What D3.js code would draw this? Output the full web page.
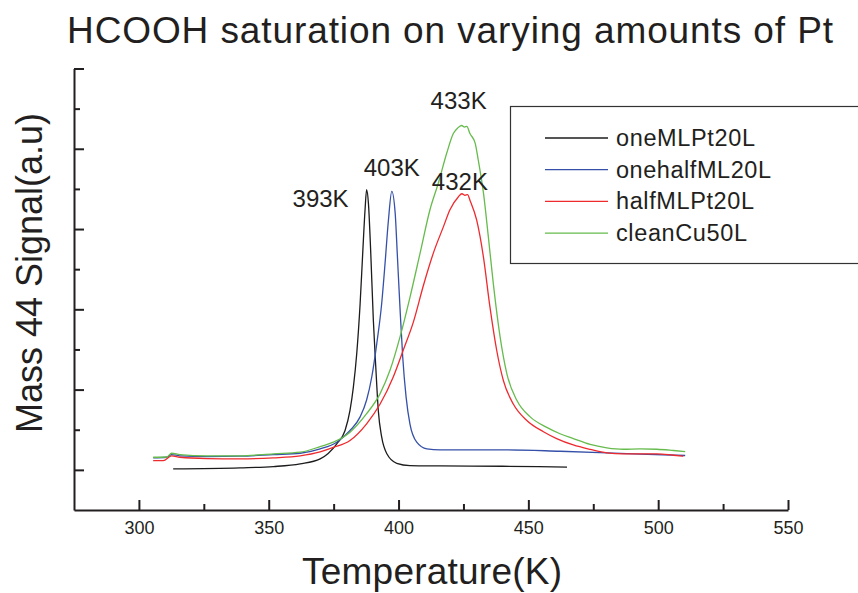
<!DOCTYPE html>
<html>
<head>
<meta charset="utf-8">
<script src="https://cdn.jsdelivr.net/npm/d3@7/dist/d3.min.js"></script>
<style>
  html, body { margin: 0; padding: 0; background: #fff; }
  svg { display: block; font-family: "Liberation Sans", Arial, Helvetica, sans-serif; }
</style>
</head>
<body>
<svg id="chart" width="858" height="593"></svg>
<script>
// Mass 44 TPD traces after HCOOH saturation (temperature in K, signal in a.u.)
const oneMLPt20L_T = [313.2, 338.9, 351.8, 362.1, 369.8, 376.2, 379.4, 381.3, 382.6, 383.9, 385.2, 386.2, 387.1, 387.7, 388.4, 389.3, 390.3, 391.3, 392.2, 393.5, 395.5, 399.3, 404.4, 416, 440, 464.9];
const oneMLPt20L_S = [0.012, 0.025, 0.041, 0.075, 0.137, 0.325, 0.49, 0.74, 1.03, 1.45, 2.07, 2.70, 3.24, 3.49, 3.32, 2.70, 1.86, 1.24, 0.74, 0.41, 0.20, 0.082, 0.054, 0.05, 0.045, 0.035];

const onehalfML20L_T = [305.5, 310.7, 312.6, 315.8, 326.1, 338.9, 351.8, 362.1, 369.8, 376.2, 381.3, 385.2, 387.7, 389.7, 391.6, 393.5, 394.8, 396.1, 397.4, 398.7, 399.5, 400.6, 401.6, 402.9, 404.4, 407, 410.9, 416, 439.1, 462.2, 477.6, 493, 510.4];
const onehalfML20L_S = [0.15, 0.157, 0.19, 0.175, 0.166, 0.17, 0.19, 0.207, 0.262, 0.345, 0.49, 0.66, 0.87, 1.16, 1.57, 2.07, 2.57, 3.11, 3.47, 3.20, 2.70, 1.99, 1.41, 0.91, 0.57, 0.345, 0.262, 0.25, 0.25, 0.232, 0.216, 0.197, 0.179];

const halfMLPt20L_T = [305.5, 309.4, 312.6, 315.8, 326.1, 338.9, 351.8, 362.1, 369.8, 374.9, 381.3, 387.7, 392.9, 398, 401.8, 405.7, 409.6, 413.4, 417.3, 419.8, 423, 424.4, 425.6, 426.6, 427.5, 430.1, 432.7, 435.2, 437.8, 440.4, 444.2, 449.4, 455.8, 460.9, 467.3, 473.8, 480.2, 486.6, 493, 499.5, 505.9, 509.7];
const halfMLPt20L_S = [0.116, 0.116, 0.175, 0.157, 0.141, 0.137, 0.15, 0.175, 0.225, 0.28, 0.366, 0.574, 0.82, 1.16, 1.49, 1.84, 2.30, 2.70, 3.03, 3.24, 3.40, 3.44, 3.42, 3.43, 3.36, 3.11, 2.65, 2.03, 1.49, 1.11, 0.82, 0.615, 0.475, 0.39, 0.31, 0.255, 0.212, 0.2, 0.2, 0.2, 0.182, 0.17];

const cleanCu50L_T = [305.5, 310.7, 312.6, 315.8, 326.1, 338.9, 351.8, 362.1, 369.8, 374.9, 381.3, 387.7, 392.9, 396.7, 400.6, 404.4, 408.3, 412.1, 415.3, 418.6, 421.1, 422.8, 424.3, 425.4, 426.3, 427.5, 429.5, 430.7, 432.7, 434.6, 436.5, 439.1, 441.7, 445.5, 450.7, 457.1, 462.2, 467.3, 473.8, 480.2, 486.6, 493, 499.5, 505.9, 510.4];
const cleanCu50L_S = [0.157, 0.16, 0.207, 0.19, 0.175, 0.175, 0.2, 0.22, 0.29, 0.345, 0.47, 0.70, 0.95, 1.24, 1.66, 2.15, 2.70, 3.24, 3.57, 3.95, 4.19, 4.26, 4.29, 4.27, 4.28, 4.19, 4.07, 3.86, 3.45, 2.90, 2.32, 1.66, 1.20, 0.87, 0.66, 0.53, 0.45, 0.39, 0.316, 0.275, 0.257, 0.262, 0.257, 0.241, 0.228];

const seriesNames = ["oneMLPt20L", "onehalfML20L", "halfMLPt20L", "cleanCu50L"];
const seriesColors = ["#1c1c1c", "#3550a8", "#ee2a2e", "#66bb4c"];
const peakLabels = ["393K", "403K", "432K", "433K"];

const xMajorTicks = [300, 350, 400, 450, 500, 550];
const xMinorTicks = [325, 375, 425, 475, 525];
const yMajorTicks = [0, 1, 2, 3, 4, 5];
const yMinorTicks = [0.5, 1.5, 2.5, 3.5, 4.5];

const titleText = "HCOOH saturation on varying amounts of Pt";
const xTitle = "Temperature(K)";
const yTitle = "Mass 44 Signal(a.u)";

const series = [
  { name: seriesNames[0], color: seriesColors[0], T: oneMLPt20L_T, S: oneMLPt20L_S },
  { name: seriesNames[1], color: seriesColors[1], T: onehalfML20L_T, S: onehalfML20L_S },
  { name: seriesNames[2], color: seriesColors[2], T: halfMLPt20L_T, S: halfMLPt20L_S },
  { name: seriesNames[3], color: seriesColors[3], T: cleanCu50L_T, S: cleanCu50L_S }
];

const svg = d3.select("#chart");
const axisColor = "#231f20";

const x = d3.scaleLinear().domain([275, 550]).range([74, 788]);
const y = d3.scaleLinear().domain([-0.5, 5]).range([510, 68.5]);

// curves, drawn first so the axes sit on top
const line = d3.line().x(d => x(d[0])).y(d => y(d[1])).curve(d3.curveMonotoneX);
const plot = svg.append("g");
series.forEach(s => {
  plot.append("path")
    .datum(s.T.map((t, i) => [t, s.S[i]]))
    .attr("fill", "none")
    .attr("stroke", s.color)
    .attr("stroke-width", 1.3)
    .attr("stroke-linejoin", "round")
    .attr("d", line);
});

// axes with inward ticks
function styleAxis(g) {
  g.selectAll("path.domain").attr("stroke", axisColor).attr("stroke-width", 2);
  g.selectAll(".tick line").attr("stroke", axisColor).attr("stroke-width", 2);
}

const xAxisG = svg.append("g").attr("transform", `translate(0,${y(-0.5)})`)
  .call(d3.axisBottom(x).tickValues(xMajorTicks).tickSize(-10).tickSizeOuter(0).tickPadding(11).tickFormat(d3.format("d")));
styleAxis(xAxisG);
xAxisG.selectAll(".tick text").attr("font-size", 18).attr("fill", "#231f20")
  .attr("font-family", "'Liberation Sans', Arial, sans-serif");

const xMinorG = svg.append("g").attr("transform", `translate(0,${y(-0.5)})`)
  .call(d3.axisBottom(x).tickValues(xMinorTicks).tickSize(-6).tickSizeOuter(0).tickFormat(""));
xMinorG.select("path.domain").remove();
styleAxis(xMinorG);

const yAxisG = svg.append("g").attr("transform", `translate(${x(275)},0)`)
  .call(d3.axisLeft(y).tickValues(yMajorTicks).tickSize(-10).tickSizeOuter(0).tickFormat(""));
styleAxis(yAxisG);

const yMinorG = svg.append("g").attr("transform", `translate(${x(275)},0)`)
  .call(d3.axisLeft(y).tickValues(yMinorTicks).tickSize(-6).tickSizeOuter(0).tickFormat(""));
yMinorG.select("path.domain").remove();
styleAxis(yMinorG);

// peak annotations, placed from each curve's maximum
const labelOffsets = [
  { dx: -18, dy: 17, anchor: "end" },
  { dx: 0, dy: -15, anchor: "middle" },
  { dx: -2, dy: -4, anchor: "middle" },
  { dx: -3, dy: -16, anchor: "middle" }
];
series.forEach((s, i) => {
  const k = d3.maxIndex(s.S);
  const o = labelOffsets[i];
  svg.append("text")
    .attr("x", x(s.T[k]) + o.dx)
    .attr("y", y(s.S[k]) + o.dy)
    .attr("text-anchor", o.anchor)
    .attr("font-size", 24)
    .attr("fill", "#231f20")
    .text(peakLabels[i]);
});

// titles
svg.append("text")
  .attr("x", 67).attr("y", 43)
  .attr("font-size", 37)
  .attr("fill", "#231f20")
  .attr("textLength", 766).attr("lengthAdjust", "spacing")
  .text(titleText);

svg.append("text")
  .attr("x", 432).attr("y", 584)
  .attr("text-anchor", "middle")
  .attr("font-size", 37)
  .attr("fill", "#231f20")
  .attr("textLength", 260).attr("lengthAdjust", "spacing")
  .text(xTitle);

svg.append("text")
  .attr("transform", "translate(42,273) rotate(-90)")
  .attr("text-anchor", "middle")
  .attr("font-size", 36)
  .attr("fill", "#231f20")
  .attr("textLength", 320).attr("lengthAdjust", "spacing")
  .text(yTitle);

// legend
const legend = svg.append("g");
legend.append("rect")
  .attr("x", 510.5).attr("y", 106.5).attr("width", 360).attr("height", 157)
  .attr("fill", "#fff").attr("stroke", "#333").attr("stroke-width", 1.2);
const legendWidths = [139, 155, 138, 131];
series.forEach((s, i) => {
  const ly = 138 + i * 31.7;
  legend.append("line")
    .attr("x1", 545).attr("x2", 608).attr("y1", ly).attr("y2", ly)
    .attr("stroke", s.color).attr("stroke-width", 1.3);
  legend.append("text")
    .attr("x", 616).attr("y", ly + 8)
    .attr("font-size", 23.5)
    .attr("fill", "#231f20")
    .attr("textLength", legendWidths[i]).attr("lengthAdjust", "spacing")
    .text(s.name);
});
</script>
</body>
</html>
